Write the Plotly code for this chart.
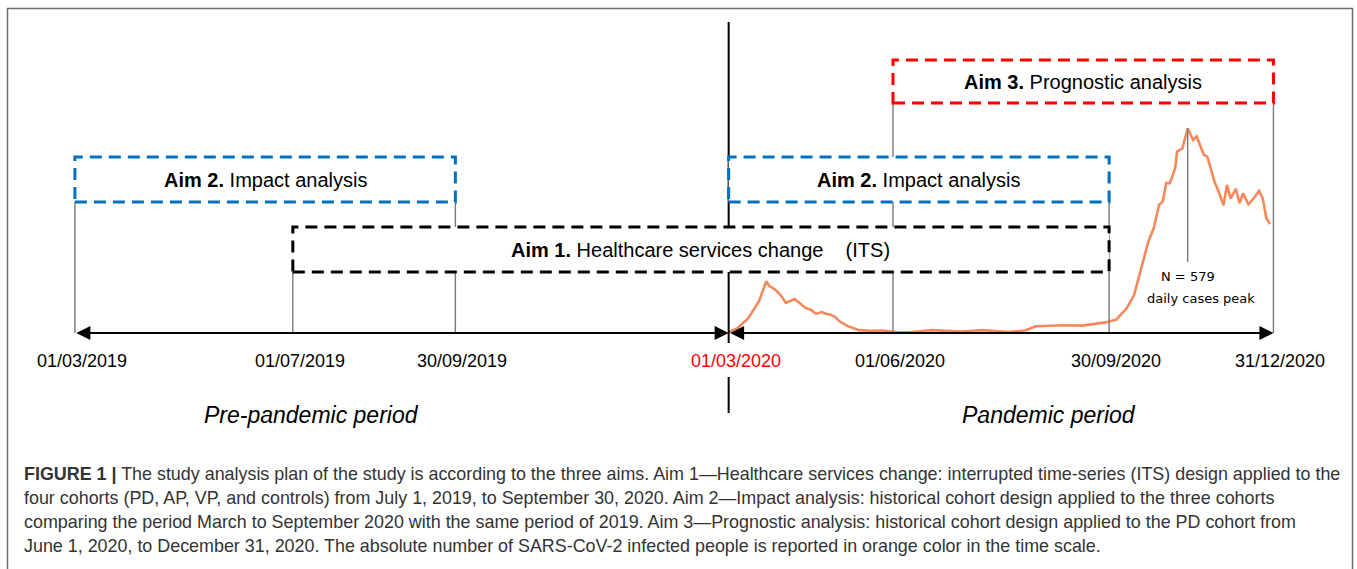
import pandas as pd
import plotly.graph_objects as go

# time scale milestones
milestone_dates = ["2019-03-01", "2019-07-01", "2019-09-30", "2020-03-01",
                   "2020-06-01", "2020-09-30", "2020-12-31"]
milestone_labels = ["01/03/2019", "01/07/2019", "30/09/2019", "01/03/2020",
                    "01/06/2020", "30/09/2020", "31/12/2020"]

# aims boxes
aim_labels = ["<b>Aim 2.</b> Impact analysis",
              "<b>Aim 1.</b> Healthcare services change\u00a0\u00a0\u00a0\u00a0(ITS)",
              "<b>Aim 2.</b> Impact analysis",
              "<b>Aim 3.</b> Prognostic analysis"]
aim_start = ["2019-03-01", "2019-07-01", "2020-03-01", "2020-06-01"]
aim_end = ["2019-09-30", "2020-09-30", "2020-09-30", "2020-12-31"]
aim_colors = ["#0070C0", "#000000", "#0070C0", "#FF0000"]

period_labels = ["Pre-pandemic period", "Pandemic period"]

# SARS-CoV-2 daily cases (orange curve)
case_dates = ["2020-03-01", "2020-03-06", "2020-03-12", "2020-03-18", "2020-03-22",
              "2020-03-24", "2020-03-27", "2020-03-30", "2020-04-02", "2020-04-05",
              "2020-04-07", "2020-04-09", "2020-04-13", "2020-04-16", "2020-04-19",
              "2020-04-22", "2020-04-24", "2020-04-27", "2020-04-30", "2020-05-02",
              "2020-05-07", "2020-05-13", "2020-05-20", "2020-05-26", "2020-06-03",
              "2020-06-10", "2020-06-15", "2020-06-23", "2020-07-01", "2020-07-10",
              "2020-07-21", "2020-08-01", "2020-08-05", "2020-08-14", "2020-08-20",
              "2020-08-25", "2020-09-05", "2020-09-15", "2020-09-22", "2020-09-28",
              "2020-10-04", "2020-10-10", "2020-10-14", "2020-10-18", "2020-10-22",
              "2020-10-25", "2020-10-28", "2020-10-30", "2020-11-01", "2020-11-03",
              "2020-11-06", "2020-11-07", "2020-11-10", "2020-11-13", "2020-11-16",
              "2020-11-18", "2020-11-20", "2020-11-22", "2020-11-24", "2020-11-26",
              "2020-11-28", "2020-12-01", "2020-12-03", "2020-12-05", "2020-12-07",
              "2020-12-10", "2020-12-12", "2020-12-14", "2020-12-17", "2020-12-20",
              "2020-12-23", "2020-12-25", "2020-12-27", "2020-12-29"]
daily_cases = [2, 14, 42, 90, 146,
               132, 123, 108, 85, 92,
               96, 88, 71, 66, 54,
               59, 55, 52, 44, 33,
               19, 8, 6, 7, 3,
               2, 5, 8, 6, 4,
               8, 5, 3, 7, 19,
               20, 22, 21, 25, 30,
               38, 71, 108, 184, 259,
               297, 363, 372, 424, 424,
               466, 513, 522, 579, 546,
               556, 532, 504, 499, 466,
               428, 391, 361, 419, 381,
               408, 367, 395, 364, 381,
               402, 381, 325, 308]

W, H = 1357, 569
FONT = "Arial, Liberation Sans, sans-serif"


def py(px):
    # pixel row -> paper y
    return 1 - px / H


# date axis scale (px per day) fitted to the picture
ref_day = pd.Timestamp("2019-03-01")
px_per_day = 1.7862
x_left = 74.9
x_range = [str(ref_day - pd.Timedelta(days=x_left / px_per_day)),
           str(ref_day + pd.Timedelta(days=(W - x_left) / px_per_day))]
px_per_case = 0.35354
base_px = 333
y_range = [-(H - base_px) / px_per_case, base_px / px_per_case]

fig = go.Figure()
fig.add_trace(go.Scatter(
    x=case_dates, y=daily_cases, mode="lines",
    line=dict(color="#F5895C", width=2.6),
    hoverinfo="x+y", showlegend=False,
))

shapes = []
# frame
shapes.append(dict(type="path", xref="paper", yref="paper",
                   path=f"M {7.5/W} 0 L {7.5/W} {py(8.5)} L {1352.5/W} {py(8.5)} L {1352.5/W} 0",
                   line=dict(color="#6e6e6e", width=1.5)))

# grey connectors from the time axis to the boxes
line_tops = [202, 272, 202, None, 103, 202, 103]
for d, top in zip(milestone_dates, line_tops):
    if top is None:
        continue
    shapes.append(dict(type="line", xref="x", yref="paper", x0=d, x1=d,
                       y0=py(top), y1=py(base_px), line=dict(color="#7a7a7a", width=1.4)))

# pandemic divider
div = milestone_dates[3]
for a, b in [(22, 343), (377, 413)]:
    shapes.append(dict(type="line", xref="x", yref="paper", x0=div, x1=div,
                       y0=py(a), y1=py(b), line=dict(color="black", width=2)))

# peak drop line
peak_i = daily_cases.index(max(daily_cases))
peak_date = case_dates[peak_i]
shapes.append(dict(type="line", xref="x", yref="y", x0=peak_date, x1=peak_date,
                   y0=daily_cases[peak_i], y1=(base_px - 262) / px_per_case,
                   line=dict(color="#7a7a7a", width=1.4)))

# aim boxes
aim_rows = [(157, 202), (227, 272), (157, 202), (60, 103)]
for s, e, c, (t, b) in zip(aim_start, aim_end, aim_colors, aim_rows):
    shapes.append(dict(type="rect", xref="x", yref="paper", x0=s, x1=e,
                       y0=py(b), y1=py(t), fillcolor="white",
                       line=dict(color=c, width=3, dash="12px,7px")))

fig.update_layout(shapes=shapes)

for lab, s, e, (t, b) in zip(aim_labels, aim_start, aim_end, aim_rows):
    mid = pd.Timestamp(s) + (pd.Timestamp(e) - pd.Timestamp(s)) / 2
    fig.add_annotation(x=str(mid), y=py((t + b) / 2), xref="x", yref="paper",
                       xanchor="center", yanchor="middle",
                       text=lab, showarrow=False,
                       font=dict(family=FONT, size=20, color="black"))

# double-headed time arrows
for a, b in [(milestone_dates[0], milestone_dates[3]), (milestone_dates[3], milestone_dates[6])]:
    fig.add_annotation(x=b, y=0, ax=a, ay=0, xref="x", yref="y", axref="x", ayref="y",
                       text="", showarrow=True, arrowside="end+start",
                       arrowhead=2, startarrowhead=2, arrowsize=1.4, startarrowsize=1.4,
                       arrowwidth=2, arrowcolor="black")

# milestone labels
for d, lab in zip(milestone_dates, milestone_labels):
    col = "#FF0000" if d == div else "black"
    fig.add_annotation(x=d, y=py(361), xref="x", yref="paper", xshift=7,
                       xanchor="center", yanchor="middle",
                       text=lab, showarrow=False,
                       font=dict(family=FONT, size=18, color=col))

# period labels
for lab, xp in zip(period_labels, [311, 1049]):
    fig.add_annotation(x=xp / W, y=py(415), xref="paper", yref="paper",
                       xanchor="center", yanchor="middle",
                       text=f"<i>{lab}</i>", showarrow=False,
                       font=dict(family=FONT, size=23, color="black"))

# peak note
fig.add_annotation(x=peak_date, y=py(277), xref="x", yref="paper",
                   xanchor="center", yanchor="middle",
                   text=f"N = {max(daily_cases)}", showarrow=False,
                   font=dict(family="DejaVu Sans", size=13, color="black"))
fig.add_annotation(x=peak_date, y=py(298), xref="x", yref="paper", xshift=13,
                   xanchor="center", yanchor="middle",
                   text="daily cases peak", showarrow=False,
                   font=dict(family="DejaVu Sans", size=13, color="black"))

# caption
caption = [
    "<b>FIGURE 1 |</b> The study analysis plan of the study is according to the three aims. "
    "Aim 1\u2014Healthcare services change: interrupted time-series (ITS) design applied to the",
    "four cohorts (PD, AP, VP, and controls) from July 1, 2019, to September 30, 2020. "
    "Aim 2\u2014Impact analysis: historical cohort design applied to the three cohorts",
    "comparing the period March to September 2020 with the same period of 2019. "
    "Aim 3\u2014Prognostic analysis: historical cohort design applied to the PD cohort from",
    "June 1, 2020, to December 31, 2020. The absolute number of SARS-CoV-2 infected "
    "people is reported in orange color in the time scale.",
]
for i, line in enumerate(caption):
    fig.add_annotation(x=22 / W, y=py(474 + 24 * i), xref="paper", yref="paper",
                       xanchor="left", yanchor="middle", text=line, showarrow=False,
                       font=dict(family=FONT, size=17.9, color="#333333"))

fig.update_layout(
    width=W, height=H,
    margin=dict(l=0, r=0, t=0, b=0),
    paper_bgcolor="white", plot_bgcolor="white",
    xaxis=dict(type="date", range=x_range, visible=False, showgrid=False),
    yaxis=dict(range=y_range, visible=False, showgrid=False),
    showlegend=False,
)

fig.write_html("out.html", config={"displayModeBar": False},
               post_script="document.body.style.margin = '0';")
